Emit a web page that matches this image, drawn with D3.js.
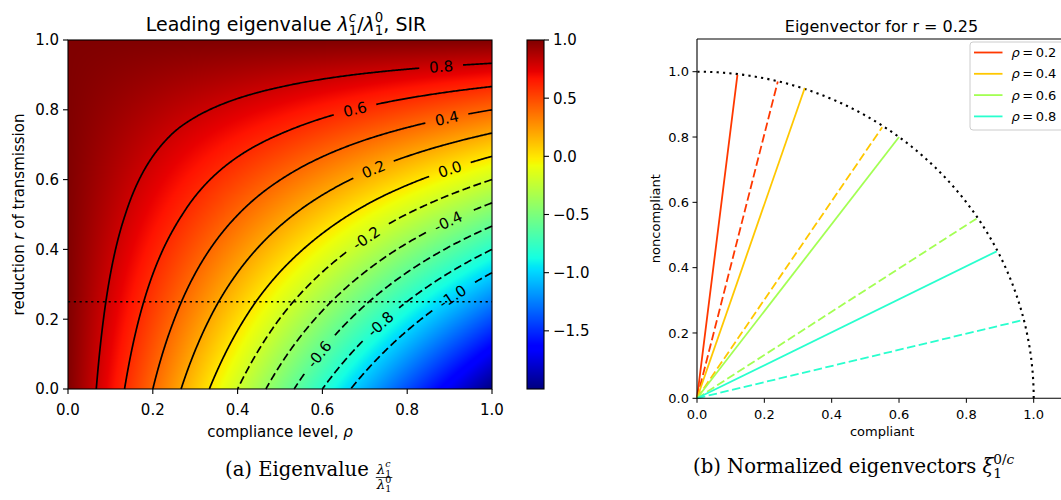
<!DOCTYPE html>
<html>
<head>
<meta charset="utf-8">
<script src="https://cdn.jsdelivr.net/npm/d3@7"></script>
<style>
  body { margin: 0; background: #fff; }
  svg text { font-family: "DejaVu Sans", sans-serif; white-space: pre; fill: #000; }
</style>
</head>
<body>
<svg id="fig" width="1061" height="500"></svg>
<script>
// ---- data ----
// eigenvalue ratio on a coarse grid (rows: r, columns: rho)
const rhoGrid = [0, 0.25, 0.5, 0.75, 1];
const rGrid = [0, 0.25, 0.5, 0.75, 1];
const eigR000 = [1.00, 0.25, -0.50, -1.25, -2.00];
const eigR025 = [1.00, 0.44, -0.13, -0.69, -1.25];
const eigR050 = [1.00, 0.63, 0.25, -0.13, -0.50];
const eigR075 = [1.00, 0.81, 0.63, 0.44, 0.25];
const eigR100 = [1.00, 1.00, 1.00, 1.00, 1.00];
const eigRows = [eigR000, eigR025, eigR050, eigR075, eigR100];

const contourLevels = [-1.0, -0.8, -0.6, -0.4, -0.2, 0.0, 0.2, 0.4, 0.6, 0.8];
// where the inline labels sit (rho, r)
const labelRho = [0.904, 0.734, 0.585, 0.894, 0.70, 0.90, 0.718, 0.892, 0.675, 0.88];
const labelR = [0.272, 0.188, 0.107, 0.484, 0.436, 0.637, 0.637, 0.785, 0.809, 0.928];

const sliceR = 0.25;
const axisTicks = [0, 0.2, 0.4, 0.6, 0.8, 1.0];
const colorbarTicks = [1.0, 0.5, 0.0, -0.5, -1.0, -1.5];

// eigenvectors for r = 0.25
const vecRho = [0.2, 0.4, 0.6, 0.8];
const vecCompC = [0.12, 0.32, 0.60, 0.89];   // xi^c, compliant part
const vecNonC = [0.99, 0.95, 0.80, 0.45];    // xi^c, noncompliant part
const vecComp0 = [0.24, 0.55, 0.83, 0.97];   // xi^0
const vecNon0 = [0.97, 0.83, 0.55, 0.24];

// ---- helpers ----
// matplotlib jet
const jetR = d3.scaleLinear().domain([0, 0.35, 0.66, 0.89, 1]).range([0, 0, 1, 1, 0.5]).clamp(true);
const jetG = d3.scaleLinear().domain([0, 0.125, 0.375, 0.64, 0.91, 1]).range([0, 0, 1, 1, 0, 0]).clamp(true);
const jetB = d3.scaleLinear().domain([0, 0.11, 0.34, 0.65, 1]).range([0.5, 1, 1, 0, 0]).clamp(true);
function jet(t) { return [jetR(t), jetG(t), jetB(t)].map(c => Math.round(c * 255)); }
function jetCss(t) { const c = jet(t); return `rgb(${c[0]},${c[1]},${c[2]})`; }

// bilinear lookup in the grid
function eigAt(rho, r) {
  const i = Math.min(rhoGrid.length - 2, Math.max(0, d3.bisectRight(rhoGrid, rho) - 1));
  const j = Math.min(rGrid.length - 2, Math.max(0, d3.bisectRight(rGrid, r) - 1));
  const tx = (rho - rhoGrid[i]) / (rhoGrid[i + 1] - rhoGrid[i]);
  const ty = (r - rGrid[j]) / (rGrid[j + 1] - rGrid[j]);
  const a = eigRows[j][i], b = eigRows[j][i + 1], c = eigRows[j + 1][i], d = eigRows[j + 1][i + 1];
  return (1 - ty) * ((1 - tx) * a + tx * b) + ty * ((1 - tx) * c + tx * d);
}

const ext = d3.extent(eigRows.flat());
const norm = d3.scaleLinear().domain(ext).range([0, 1]).clamp(true);

const svg = d3.select("#fig");

// math-ish text as ONE text element made of tspans (sub/sup stacked)
const measurer = svg.append("text").attr("visibility", "hidden");
function textWidth(txt, fs, it, family) {
  measurer.attr("font-size", fs).attr("font-style", it ? "italic" : "normal")
    .style("font-family", family || null).text(txt);
  return measurer.node().getComputedTextLength();
}
function addMath(t, parts, size, family, st, base) {
  const span = (txt, fs, it, y) => {
    t.append("tspan").attr("font-size", fs).attr("font-style", it ? "italic" : "normal")
      .attr("dx", st.dx).attr("dy", y - st.dy).text(txt);
    st.dx = 0; st.dy = y;
    return textWidth(txt, fs, it, family);
  };
  let total = 0;
  parts.forEach(p => {
    if (p.t) total += span(p.t, size, p.it, base);
    if (p.sup || p.sub) {
      let supW = 0, subW = 0;
      if (p.sup) p.sup.forEach(s => { supW += span(s[0], size * 0.7, s[1], base - size * 0.47); });
      if (p.sub) { st.dx = -supW; subW = span(p.sub, size * 0.7, false, base + size * 0.23); }
      const w = Math.max(supW, subW);
      st.dx = w - (p.sub ? subW : supW);
      total += w;
    }
  });
  return total;
}
function mathText(parent, parts, x, y, size, anchor, family) {
  const t = parent.append("text").attr("y", y).attr("font-size", size);
  if (family) t.style("font-family", family);
  const w = addMath(t, parts, size, family, { dx: 0, dy: 0 }, 0);
  const shift = anchor === "middle" ? -w / 2 : anchor === "end" ? -w : 0;
  t.attr("x", x + shift);
  return w;
}

// ================= left: eigenvalue map =================
const xL = d3.scaleLinear().domain([0, 1]).range([68, 492]);
const yL = d3.scaleLinear().domain([0, 1]).range([389, 40]);
const gL = svg.append("g");

// heat map through a canvas
{
  const x0 = xL.range()[0], y0 = yL.range()[1];
  const pw = xL.range()[1] - x0, ph = yL.range()[0] - y0;
  const canvas = document.createElement("canvas");
  canvas.width = pw; canvas.height = ph;
  const ctx = canvas.getContext("2d");
  const img = ctx.createImageData(pw, ph);
  for (let j = 0; j < ph; j++) {
    const r = yL.invert(y0 + j + 0.5);
    for (let i = 0; i < pw; i++) {
      const c = jet(norm(eigAt(xL.invert(x0 + i + 0.5), r)));
      const k = (j * pw + i) * 4;
      img.data[k] = c[0]; img.data[k + 1] = c[1]; img.data[k + 2] = c[2]; img.data[k + 3] = 255;
    }
  }
  ctx.putImageData(img, 0, 0);
  gL.append("image").attr("x", x0).attr("y", y0).attr("width", pw).attr("height", ph)
    .attr("preserveAspectRatio", "none").attr("href", canvas.toDataURL());
}

// contour lines
const NX = 301, NY = 301;
const field = new Float64Array(NX * NY);
for (let j = 0; j < NY; j++)
  for (let i = 0; i < NX; i++) field[j * NX + i] = eigAt(i / (NX - 1), j / (NY - 1));
const contours = d3.contours().size([NX, NY]).thresholds(contourLevels)(field);

function interiorRuns(ring) {
  const inside = p => p[0] > 0 && p[0] < NX && p[1] > 0 && p[1] < NY;
  const start = ring.findIndex(p => !inside(p));
  if (start < 0) return [ring];
  const pts = ring.slice(start).concat(ring.slice(0, start));
  const runs = [];
  let cur = [];
  pts.forEach(p => {
    if (inside(p)) cur.push(p);
    else { if (cur.length > 1) runs.push(cur); cur = []; }
  });
  if (cur.length > 1) runs.push(cur);
  return runs;
}
const toPx = p => [xL((p[0] - 0.5) / (NX - 1)), yL((p[1] - 0.5) / (NY - 1))];

const line = d3.line();
const gC = gL.append("g");
contours.forEach((c, li) => {
  let runs = [];
  c.coordinates.forEach(poly => poly.forEach(ring => { runs = runs.concat(interiorRuns(ring)); }));
  if (!runs.length) return;
  const pts = runs.sort((a, b) => b.length - a.length)[0].map(toPx);

  // label text, measured first
  const lv = contourLevels[li];
  const lab = gC.append("text").attr("font-size", 15).attr("text-anchor", "middle")
    .attr("dy", "0.36em").text(lv.toFixed(1));
  const w = lab.node().getComputedTextLength();

  // arc length along the line
  const cum = [0];
  for (let k = 1; k < pts.length; k++) cum.push(cum[k - 1] + Math.hypot(pts[k][0] - pts[k - 1][0], pts[k][1] - pts[k - 1][1]));
  const at = s => {
    let k = d3.bisectRight(cum, s);
    k = Math.max(1, Math.min(pts.length - 1, k));
    const t = (s - cum[k - 1]) / (cum[k] - cum[k - 1] || 1);
    return [pts[k - 1][0] + t * (pts[k][0] - pts[k - 1][0]), pts[k - 1][1] + t * (pts[k][1] - pts[k - 1][1])];
  };
  const target = [xL(labelRho[li]), yL(labelR[li])];
  const kBest = d3.minIndex(pts, p => Math.hypot(p[0] - target[0], p[1] - target[1]));
  const s0 = cum[kBest], half = w / 2 + 10;
  const pA = at(s0 - half), pB = at(s0 + half), pC = at(s0);
  const partA = pts.filter((p, k) => cum[k] < s0 - half).concat([pA]);
  const partB = [pB].concat(pts.filter((p, k) => cum[k] > s0 + half));

  let ang = Math.atan2(pB[1] - pA[1], pB[0] - pA[0]) * 180 / Math.PI;
  if (ang > 90) ang -= 180;
  if (ang < -90) ang += 180;
  lab.attr("transform", `translate(${pC[0]},${pC[1]}) rotate(${ang})`);

  [partA, partB].forEach(part => {
    if (part.length < 2) return;
    gC.insert("path", "text").attr("d", line(part)).attr("fill", "none")
      .attr("stroke", "#000").attr("stroke-width", 1.7)
      .attr("stroke-dasharray", lv < 0 ? "8,3.6" : null);
  });
});

// slice r = 0.25
gL.append("line").attr("x1", xL(0)).attr("x2", xL(1)).attr("y1", yL(sliceR)).attr("y2", yL(sliceR))
  .attr("stroke", "#000").attr("stroke-width", 1.6).attr("stroke-dasharray", "2.2,3.6");

// frame + ticks
gL.append("rect").attr("x", xL(0)).attr("y", yL(1)).attr("width", xL(1) - xL(0)).attr("height", yL(0) - yL(1))
  .attr("fill", "none").attr("stroke", "#000").attr("stroke-width", 1.1);
axisTicks.forEach(v => {
  gL.append("line").attr("x1", xL(v)).attr("x2", xL(v)).attr("y1", yL(0)).attr("y2", yL(0) + 5)
    .attr("stroke", "#000").attr("stroke-width", 1.1);
  gL.append("text").attr("x", xL(v)).attr("y", 415).attr("text-anchor", "middle").attr("font-size", 15)
    .text(v.toFixed(1));
  gL.append("line").attr("x1", xL(0) - 5).attr("x2", xL(0)).attr("y1", yL(v)).attr("y2", yL(v))
    .attr("stroke", "#000").attr("stroke-width", 1.1);
  gL.append("text").attr("x", xL(0) - 9).attr("y", yL(v)).attr("dy", "0.36em").attr("text-anchor", "end")
    .attr("font-size", 15).text(v.toFixed(1));
});

// axis labels + title
{
  const t = gL.append("text").attr("x", (xL(0) + xL(1)) / 2).attr("y", 437).attr("text-anchor", "middle").attr("font-size", 15);
  t.append("tspan").text("compliance level, ");
  t.append("tspan").attr("font-style", "italic").text("ρ");
  const t2 = gL.append("text").attr("transform", `translate(24,${(yL(0) + yL(1)) / 2}) rotate(-90)`)
    .attr("text-anchor", "middle").attr("font-size", 15);
  t2.append("tspan").text("reduction ");
  t2.append("tspan").attr("font-style", "italic").text("r");
  t2.append("tspan").text(" of transmission");
}
mathText(gL, [
  { t: "Leading eigenvalue " },
  { t: "λ", it: true, sub: "1", sup: [["c", true]] },
  { t: "/" },
  { t: "λ", it: true, sub: "1", sup: [["0", false]] },
  { t: ", SIR" }
], 286, 31, 19, "middle");

// colorbar
const cbX = 527, cbW = 17;
const yCb = d3.scaleLinear().domain(ext).range([389, 40]);
{
  const ph = yCb.range()[0] - yCb.range()[1];
  const canvas = document.createElement("canvas");
  canvas.width = cbW; canvas.height = ph;
  const ctx = canvas.getContext("2d");
  for (let j = 0; j < ph; j++) {
    ctx.fillStyle = jetCss(norm(yCb.invert(yCb.range()[1] + j + 0.5)));
    ctx.fillRect(0, j, cbW, 1);
  }
  gL.append("image").attr("x", cbX).attr("y", yCb.range()[1]).attr("width", cbW).attr("height", ph)
    .attr("preserveAspectRatio", "none").attr("href", canvas.toDataURL());
  gL.append("rect").attr("x", cbX).attr("y", yCb.range()[1]).attr("width", cbW).attr("height", ph)
    .attr("fill", "none").attr("stroke", "#000").attr("stroke-width", 1.1);
  colorbarTicks.forEach(v => {
    gL.append("line").attr("x1", cbX + cbW).attr("x2", cbX + cbW + 5).attr("y1", yCb(v)).attr("y2", yCb(v))
      .attr("stroke", "#000").attr("stroke-width", 1.1);
    gL.append("text").attr("x", cbX + cbW + 9).attr("y", yCb(v)).attr("dy", "0.36em").attr("font-size", 15)
      .text(v.toFixed(1).replace("-", "\u2212"));
  });
}

// ================= right: eigenvectors =================
const xR = d3.scaleLinear().domain([0, 1.1]).range([697, 697 + 1.1 * 336.7]);
const yR = d3.scaleLinear().domain([0, 1.1]).range([398.3, 398.3 - 1.1 * 326.6]);
const gR = svg.append("g");

// unit circle guide
gR.append("path")
  .attr("d", d3.line()(d3.range(0, 90.5, 0.5).map(a => [xR(Math.cos(a * Math.PI / 180)), yR(Math.sin(a * Math.PI / 180))])))
  .attr("fill", "none").attr("stroke", "#000").attr("stroke-width", 2.1).attr("stroke-dasharray", "2.2,4.2");

const vecColor = vecRho.map(rho => jetCss(norm(eigAt(rho, sliceR))));
vecRho.forEach((rho, k) => {
  gR.append("line").attr("x1", xR(0)).attr("y1", yR(0)).attr("x2", xR(vecCompC[k])).attr("y2", yR(vecNonC[k]))
    .attr("stroke", vecColor[k]).attr("stroke-width", 1.8);
  gR.append("line").attr("x1", xR(0)).attr("y1", yR(0)).attr("x2", xR(vecComp0[k])).attr("y2", yR(vecNon0[k]))
    .attr("stroke", vecColor[k]).attr("stroke-width", 1.8).attr("stroke-dasharray", "8.5,3.5");
});

// spines
[[xR(0), yR(0), xR(1.1), yR(0)], [xR(0), yR(0), xR(0), yR(1.1)], [xR(0), yR(1.1), xR(1.1), yR(1.1)], [xR(1.1), yR(0), xR(1.1), yR(1.1)]]
  .forEach(s => gR.append("line").attr("x1", s[0]).attr("y1", s[1]).attr("x2", s[2]).attr("y2", s[3])
    .attr("stroke", "#000").attr("stroke-width", 1.1));
axisTicks.forEach(v => {
  gR.append("line").attr("x1", xR(v)).attr("x2", xR(v)).attr("y1", yR(0)).attr("y2", yR(0) + 4.5)
    .attr("stroke", "#000").attr("stroke-width", 1);
  gR.append("text").attr("x", xR(v)).attr("y", 419).attr("text-anchor", "middle").attr("font-size", 13)
    .text(v.toFixed(1));
  gR.append("line").attr("x1", xR(0) - 4.5).attr("x2", xR(0)).attr("y1", yR(v)).attr("y2", yR(v))
    .attr("stroke", "#000").attr("stroke-width", 1);
  gR.append("text").attr("x", xR(0) - 8).attr("y", yR(v)).attr("dy", "0.36em").attr("text-anchor", "end")
    .attr("font-size", 13).text(v.toFixed(1));
});
gR.append("text").attr("x", (xR(0) + xR(1.1)) / 2).attr("y", 436).attr("text-anchor", "middle")
  .attr("font-size", 13).text("compliant");
gR.append("text").attr("transform", `translate(660,${(yR(0) + yR(1.1)) / 2}) rotate(-90)`)
  .attr("text-anchor", "middle").attr("font-size", 13).text("noncompliant");
gR.append("text").attr("x", 881.5).attr("y", 31.5).attr("text-anchor", "middle")
  .attr("font-size", 16).text("Eigenvector for r = 0.25");

// legend
{
  const lg = gR.append("g");
  lg.append("rect").attr("x", 970).attr("y", 42).attr("width", 100).attr("height", 88).attr("rx", 3)
    .attr("fill", "#fff").attr("fill-opacity", 0.8).attr("stroke", "#ccc");
  vecRho.forEach((rho, k) => {
    const yy = 52.5 + k * 21.3;
    lg.append("line").attr("x1", 974).attr("x2", 1002.5).attr("y1", yy).attr("y2", yy)
      .attr("stroke", vecColor[k]).attr("stroke-width", 1.8);
    const t = lg.append("text").attr("x", 1011.5).attr("y", yy).attr("dy", "0.36em").attr("font-size", 13);
    t.append("tspan").attr("font-style", "italic").text("ρ");
    t.append("tspan").attr("dx", 2.5).text("=");
    t.append("tspan").attr("dx", 2.5).text(rho.toFixed(1));
  });
}

// ================= captions =================
const serif = '"DejaVu Serif", serif';
{
  const w = mathText(svg, [{ t: "(a) Eigenvalue" }], 225, 476, 19.6, "start", serif);
  const fx = 225 + w + 8;
  // fraction as one text: numerator, then back and down to the denominator
  const t = svg.append("text").attr("x", fx).attr("y", 473.5).attr("font-size", 13.5).style("font-family", serif);
  const st = { dx: 0, dy: 0 };
  const wn = addMath(t, [{ t: "λ", it: true, sub: "1", sup: [["c", true]] }], 13.5, serif, st, 0);
  st.dx += -wn;
  addMath(t, [{ t: "λ", it: true, sub: "1", sup: [["0", false]] }], 13.5, serif, st, 15.5);
  svg.append("line").attr("x1", fx - 1).attr("x2", fx + wn + 1).attr("y1", 477.5).attr("y2", 477.5)
    .attr("stroke", "#000").attr("stroke-width", 0.8);
}
mathText(svg, [
  { t: "(b) Normalized eigenvectors " },
  { t: "ξ", it: true, sub: "1", sup: [["0/", false], ["c", true]] }
], 693, 473, 19.6, "start", serif);
measurer.remove();
</script>
</body>
</html>
